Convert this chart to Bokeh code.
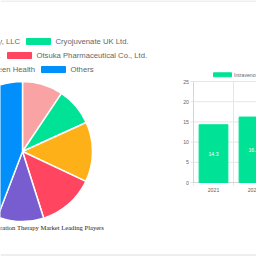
import numpy as np
from bokeh.plotting import figure
from bokeh.models import Range1d
from bokeh.core.properties import value
from bokeh.embed import file_html
from bokeh.resources import INLINE

# ---------------- data ----------------
players = ["The Hydration Company, LLC", "Cryojuvenate UK Ltd.", "Reviv Global Ltd.",
           "Otsuka Pharmaceutical Co., Ltd.", "Modern Green Health", "Others"]
shares = [9.4, 8.8, 13.8, 13.1, 10.7, 44.2]
pie_colors = ["#F9A3A4", "#00E396", "#FEB019", "#FF4560", "#775DD0", "#008FFB"]
pie_title = "Intravenous Hydration Therapy Market Leading Players"

years = ["2021", "2022"]
market_size = [14.3, 16.2]
bar_series = "Intravenous Hydration Therapy Market Size"
bar_color = "#00E396"
y_ticks = [0, 5, 10, 15, 20, 25]

# ---------------- figure ----------------
S = 256
p = figure(width=S, height=S, x_range=Range1d(0, S), y_range=Range1d(0, S),
           output_backend="svg", toolbar_location=None, min_border=0,
           x_axis_location=None, y_axis_location=None)
p.grid.visible = False
p.outline_line_color = None
p.background_fill_color = "white"
p.border_fill_color = "white"


def Y(py):
    return S - py


SANS = value("Liberation Sans")
GRAY = "#666666"

# page separators
p.segment(x0=[0, 0], x1=[S, S], y0=[Y(0.5), Y(254.5)], y1=[Y(0.5), Y(254.5)],
          line_color="#dddddd", line_width=1)

# ---------------- pie ----------------
frac = np.array(shares) / sum(shares)
cum = np.concatenate([[0.0], np.cumsum(frac)])
start = np.pi / 2 - cum[1:] * 2 * np.pi
end = np.pi / 2 - cum[:-1] * 2 * np.pi
p.wedge(x=22, y=Y(151), radius=70, start_angle=start, end_angle=end,
        fill_color=pie_colors, line_color="white", line_width=1.5)

# pie legend (3 rows, two items each)
row_y = [41, 55, 69]
second_box_x = [26, 7, 41]
fs_leg = 7.7
for r in range(3):
    i1, i2 = 2 * r, 2 * r + 1
    yc = Y(row_y[r])
    bx = second_box_x[r]
    # second item of the row
    p.rect(x=bx + 12, y=yc, width=24, height=6, fill_color=pie_colors[i2],
           line_color=pie_colors[i2])
    p.text(x=bx + 29, y=yc, text=[players[i2]], text_font=SANS,
           text_font_size=f"{fs_leg}px", text_color=GRAY,
           text_baseline="middle", text_align="left")
    # first item of the row (mostly cut off at the left)
    tr = bx - 6.5
    p.text(x=tr, y=yc, text=[players[i1]], text_font=SANS,
           text_font_size=f"{fs_leg}px", text_color=GRAY,
           text_baseline="middle", text_align="right")
    approx_w = len(players[i1]) * 0.5 * fs_leg
    p.rect(x=tr - approx_w - 5 - 12, y=yc, width=24, height=6,
           fill_color=pie_colors[i1], line_color=pie_colors[i1])

# pie title
p.text(x=103.5, y=Y(227), text=[pie_title], text_font=value("Liberation Serif"),
       text_font_size="6.6px", text_color="#222222", text_baseline="middle",
       text_align="right")

# ---------------- bar chart (own scales) ----------------
px_per_cat = 40.0
px_per_unit = 101.0 / 25.0
axis_px, zero_px = 193.0, 182.0
bx0 = -0.5 - axis_px / px_per_cat
p.extra_x_ranges = {"bx": Range1d(bx0, bx0 + S / px_per_cat)}
p.extra_y_ranges = {"by": Range1d(-(S - zero_px) / px_per_unit, zero_px / px_per_unit)}
bx1 = bx0 + S / px_per_cat
idx = list(range(len(years)))
tick_len_x = 3 / px_per_cat
tick_len_y = 3 / px_per_unit

# horizontal grid
p.segment(x0=[-0.5 - tick_len_x] * len(y_ticks), x1=[bx1] * len(y_ticks),
          y0=y_ticks, y1=y_ticks, line_color="#e6e6e6", line_width=1,
          x_range_name="bx", y_range_name="by")
# vertical grid (category boundaries)
bounds = [i - 0.5 for i in range(len(years) + 1)]
p.segment(x0=bounds, x1=bounds, y0=[-tick_len_y] * len(bounds),
          y1=[max(y_ticks)] * len(bounds), line_color="#e6e6e6", line_width=1,
          x_range_name="bx", y_range_name="by")
# axis lines
p.segment(x0=[-0.5], x1=[-0.5], y0=[0], y1=[max(y_ticks)], line_color="#d6d6d6",
          x_range_name="bx", y_range_name="by")
p.segment(x0=[-0.5], x1=[bx1], y0=[0], y1=[0], line_color="#d6d6d6",
          x_range_name="bx", y_range_name="by")

# bars
p.vbar(x=idx, width=0.72, top=market_size, bottom=0, fill_color=bar_color,
       line_color=bar_color, x_range_name="bx", y_range_name="by")
p.text(x=idx, y=[v / 2 for v in market_size], text=[str(v) for v in market_size],
       text_font=SANS, text_font_size="5.2px", text_color="white",
       text_align="center", text_baseline="middle",
       x_range_name="bx", y_range_name="by")

# tick labels
p.text(x=[-0.5 - 4.5 / px_per_cat] * len(y_ticks), y=y_ticks,
       text=[str(t) for t in y_ticks], text_font=SANS, text_font_size="5.2px",
       text_color=GRAY, text_align="right", text_baseline="middle",
       x_range_name="bx", y_range_name="by")
p.text(x=idx, y=[-7 / px_per_unit] * len(idx), text=years, text_font=SANS,
       text_font_size="5.2px", text_color=GRAY, text_align="center",
       text_baseline="middle", x_range_name="bx", y_range_name="by")

# bar legend
p.rect(x=222, y=Y(74.3), width=18, height=4, fill_color=bar_color, line_color=bar_color)
p.text(x=233.5, y=Y(74.3), text=[bar_series], text_font=SANS, text_font_size="5.2px",
       text_color=GRAY, text_align="left", text_baseline="middle")

open("out.html", "w").write(file_html(p, INLINE))
